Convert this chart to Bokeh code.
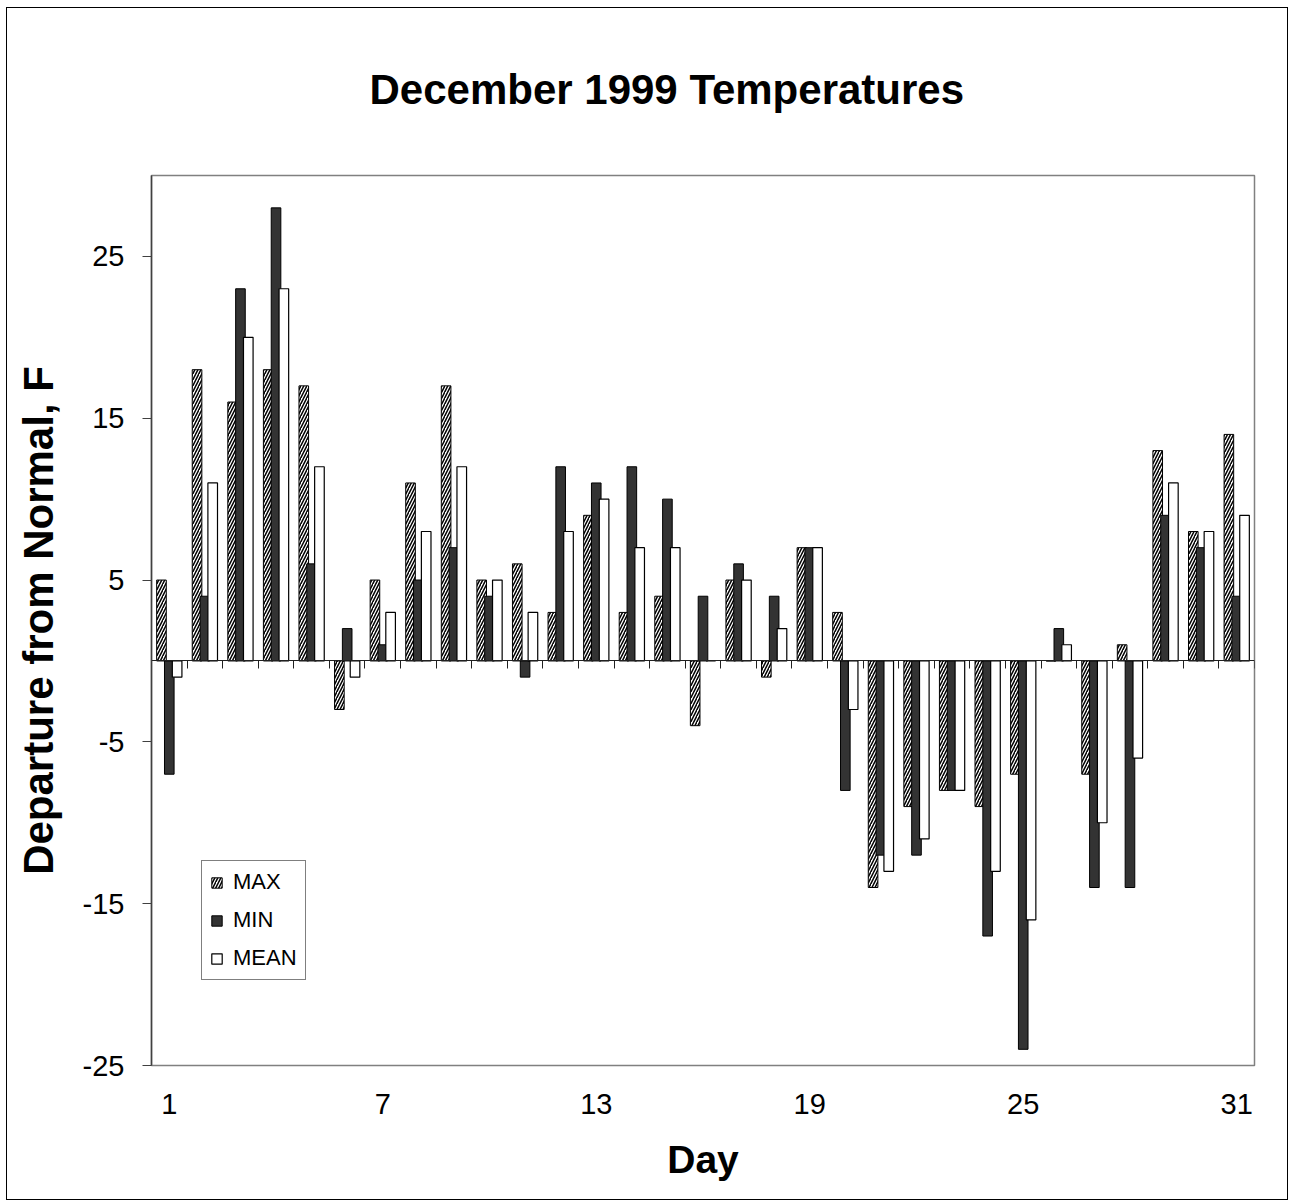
from bokeh.plotting import figure
from bokeh.models import (ColumnDataSource, FixedTicker, LinearAxis, Legend, LegendItem,
                          Range1d, Title, CustomJSTickFormatter)
from bokeh.transform import dodge
from bokeh.embed import file_html
from bokeh.resources import INLINE

# ---- data -------------------------------------------------------------
days = list(range(1, 32))
max_dep = [5, 18, 16, 18, 17, -3, 5, 11, 17, 5, 6, 3, 9, 3, 4, -4, 5, -1, 7, 3,
           -14, -9, -8, -9, -7, 0, -7, 1, 13, 8, 14]
min_dep = [-7, 4, 23, 28, 6, 2, 1, 5, 7, 4, -1, 12, 11, 12, 10, 4, 6, 4, 7, -8,
           -12, -12, -8, -17, -24, 2, -14, -14, 9, 7, 4]
mean_dep = [-1, 11, 20, 23, 12, -1, 3, 8, 12, 5, 3, 8, 10, 7, 7, 0, 5, 2, 7, -3,
            -13, -11, -8, -13, -16, 1, -10, -6, 11, 8, 9]
x_tick_days = [1, 7, 13, 19, 25, 31]
y_ticks = [-25, -15, -5, 5, 15, 25]
series_names = ["MAX", "MIN", "MEAN"]

src = ColumnDataSource(dict(day=days, mx=max_dep, mn=min_dep, me=mean_dep))

FONT = "Liberation Sans"

p = figure(width=1282, height=1193,
           x_range=Range1d(0.5, 31.5), y_range=Range1d(-25, 30),
           output_backend="svg", toolbar_location=None, tools="",
           x_axis_type=None, y_axis_type=None,
           min_border_left=144, min_border_right=35,
           min_border_top=167, min_border_bottom=136,
           styles={"border": "1px solid #000000", "margin-left": "6px",
                   "margin-top": "7px"})

p.outline_line_color = "#808080"
p.outline_line_width = 1.5
p.background_fill_color = "white"
p.border_fill_color = "white"

# title: spacer first (nearest the frame), then the real title
p.title = None
spacer = Title(text=" ", text_font=FONT, text_font_size="41px")
p.add_layout(spacer, "above")
title = Title(text="December 1999 Temperatures", text_font=FONT,
              text_font_size="42px", text_font_style="bold", text_color="black",
              align="left", offset=218)
p.add_layout(title, "above")

# grid
p.ygrid.ticker = FixedTicker(ticks=y_ticks)
p.ygrid.grid_line_color = "#000000"
p.ygrid.grid_line_width = 1
p.xgrid.grid_line_color = None

# bars
bw = 0.27
r_max = p.vbar(x=dodge("day", -0.22, range=p.x_range), top="mx", bottom=0, width=bw,
               source=src, fill_color="white", line_color="black", line_width=1,
               hatch_pattern="/", hatch_color="black", hatch_scale=6, hatch_weight=1.5)
r_min = p.vbar(x=dodge("day", 0.0, range=p.x_range), top="mn", bottom=0, width=bw,
               source=src, fill_color="#333333", line_color="black", line_width=1)
r_mean = p.vbar(x=dodge("day", 0.22, range=p.x_range), top="me", bottom=0, width=bw,
                source=src, fill_color="white", line_color="black", line_width=1.2)

plain = CustomJSTickFormatter(code="return String(tick);")

# y axis
yaxis = LinearAxis(ticker=FixedTicker(ticks=y_ticks), formatter=plain,
                   axis_label="Departure from Normal, F")
yaxis.axis_label_text_font = FONT
yaxis.axis_label_text_font_size = "42px"
yaxis.axis_label_text_font_style = "bold"
yaxis.axis_label_text_color = "black"
yaxis.axis_label_standoff = 18
yaxis.major_label_text_font = FONT
yaxis.major_label_text_font_size = "29px"
yaxis.major_label_text_color = "black"
yaxis.major_label_standoff = 18
yaxis.major_tick_out = 9
yaxis.major_tick_in = 0
yaxis.minor_tick_out = 0
yaxis.minor_tick_in = 0
yaxis.axis_line_color = "#404040"
yaxis.axis_line_width = 1.5
yaxis.major_tick_line_color = "#404040"
p.add_layout(yaxis, "left")

# x axis with labels at bottom
xaxis = LinearAxis(ticker=FixedTicker(ticks=x_tick_days), formatter=plain,
                   axis_label="Day")
xaxis.axis_label_text_font = FONT
xaxis.axis_label_text_font_size = "39px"
xaxis.axis_label_text_font_style = "bold"
xaxis.axis_label_text_color = "black"
xaxis.axis_label_standoff = 21
xaxis.major_label_text_font = FONT
xaxis.major_label_text_font_size = "29px"
xaxis.major_label_text_color = "black"
xaxis.major_label_standoff = 28
xaxis.major_tick_out = 0
xaxis.major_tick_in = 0
xaxis.minor_tick_out = 0
xaxis.minor_tick_in = 0
xaxis.axis_line_color = None
p.add_layout(xaxis, "below")

# category axis crossing at zero (tick marks between days)
boundaries = [d - 0.5 for d in days] + [days[-1] + 0.5]
zaxis = LinearAxis(ticker=FixedTicker(ticks=boundaries), fixed_location=0)
zaxis.major_label_text_color = None
zaxis.major_label_text_font_size = "1px"
zaxis.major_tick_out = 8
zaxis.major_tick_in = 0
zaxis.minor_tick_out = 0
zaxis.minor_tick_in = 0
zaxis.axis_line_color = "#202020"
zaxis.axis_line_width = 1.2
zaxis.major_tick_line_color = "#202020"
p.add_layout(zaxis, "below")

# legend
legend = Legend(items=[LegendItem(label=series_names[0], renderers=[r_max]),
                       LegendItem(label=series_names[1], renderers=[r_min]),
                       LegendItem(label=series_names[2], renderers=[r_mean])],
                location=(50, 85), margin=0, padding=8, spacing=12,
                glyph_width=13, glyph_height=13, label_height=25,
                label_standoff=10,
                label_text_font=FONT, label_text_font_size="22px",
                label_text_color="black",
                border_line_color="black", border_line_width=1,
                background_fill_color="white", background_fill_alpha=1.0)
p.add_layout(legend)

open("out.html", "w").write(file_html(p, INLINE))
